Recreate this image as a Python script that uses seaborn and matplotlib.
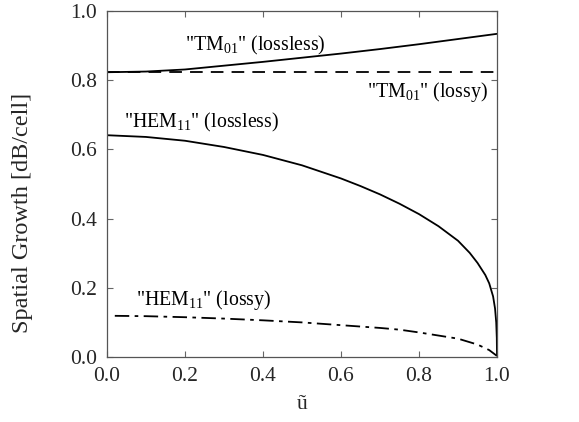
import matplotlib
matplotlib.use("Agg")
import matplotlib.pyplot as plt
import seaborn as sns

# ---- data ----
u_tm_lossless = [0.0, 0.1, 0.2, 0.3, 0.4, 0.5, 0.6, 0.7, 0.8, 0.9, 1.0]
tm_lossless = [0.823, 0.825, 0.831, 0.842, 0.853, 0.865, 0.877, 0.890, 0.904, 0.919, 0.934]

u_tm_lossy = [0.0, 0.25, 0.5, 0.75, 1.0]
tm_lossy = [0.823, 0.823, 0.823, 0.823, 0.823]

u_hem_lossless = [0.0, 0.1, 0.2, 0.3, 0.4, 0.5, 0.6, 0.65, 0.7, 0.75, 0.8, 0.85, 0.9,
                  0.93, 0.95, 0.97, 0.98, 0.99, 0.995, 0.998, 0.9995, 1.0]
hem_lossless = [0.641, 0.636, 0.625, 0.607, 0.584, 0.554, 0.516, 0.494, 0.470, 0.443,
                0.413, 0.378, 0.336, 0.301, 0.272, 0.237, 0.213, 0.175, 0.140, 0.100,
                0.055, 0.005]

u_hem_lossy = [0.02, 0.1, 0.2, 0.3, 0.4, 0.5, 0.6, 0.7, 0.75, 0.8, 0.85, 0.9, 0.95, 0.98, 1.0]
hem_lossy = [0.119, 0.118, 0.115, 0.111, 0.106, 0.100, 0.092, 0.084, 0.079, 0.071,
             0.062, 0.053, 0.036, 0.020, 0.003]

x_ticks = [0.0, 0.2, 0.4, 0.6, 0.8, 1.0]
y_ticks = [0.0, 0.2, 0.4, 0.6, 0.8, 1.0]
tick_labels = ["0.0", "0.2", "0.4", "0.6", "0.8", "1.0"]

labels = [r'"$\mathrm{TM}_{01}$" (lossless)', r'"$\mathrm{TM}_{01}$" (lossy)',
          r'"$\mathrm{HEM}_{11}$" (lossless)', r'"$\mathrm{HEM}_{11}$" (lossy)']
label_x = [0.20, 0.667, 0.044, 0.074]
label_y = [0.887, 0.752, 0.662, 0.150]

# ---- style ----
sns.set_style("ticks", {"xtick.direction": "in", "ytick.direction": "in"})
plt.rcParams["font.family"] = ["Liberation Serif", "DejaVu Serif"]
plt.rcParams["mathtext.fontset"] = "custom"
plt.rcParams["mathtext.rm"] = "Liberation Serif"
plt.rcParams["mathtext.it"] = "Liberation Serif:italic"

FS = 15.5
FS_ANN = 14.3

fig = plt.figure(figsize=(5.79, 4.22), dpi=100)
ax = fig.add_axes([107 / 579, 1 - 357 / 422, 390 / 579, 346 / 422])

sns.lineplot(x=u_tm_lossless, y=tm_lossless, ax=ax, color="black", lw=1.3, errorbar=None)
sns.lineplot(x=u_tm_lossy, y=tm_lossy, ax=ax, color="black", lw=1.3, errorbar=None,
             linestyle=(0, (7, 4.5)))
sns.lineplot(x=u_hem_lossless, y=hem_lossless, ax=ax, color="black", lw=1.3, errorbar=None)
sns.lineplot(x=u_hem_lossy, y=hem_lossy, ax=ax, color="black", lw=1.3, errorbar=None,
             linestyle=(0, (8, 3, 2, 3)))

for t, x, y in zip(labels, label_x, label_y):
    ax.text(x, y, t, fontsize=FS_ANN, ha="left", va="baseline", color="black")

ax.set_xlim(0, 1)
ax.set_ylim(0, 1)
ax.set_xticks(x_ticks)
ax.set_xticklabels(tick_labels)
ax.set_yticks(y_ticks)
ax.set_yticklabels(tick_labels)
ax.tick_params(axis="both", which="major", direction="in", length=4, width=0.8,
               color="#666666", labelsize=FS, top=True, right=True, pad=7)

for s in ax.spines.values():
    s.set_color("#555555")
    s.set_linewidth(0.9)
    s.set_visible(True)

ax.set_ylabel("Spatial Growth [dB/cell]", fontsize=17.5)
ax.yaxis.set_label_coords(-0.19, 0.416)
ax.set_xlabel("ũ", fontsize=FS)
ax.xaxis.set_label_coords(0.5, -0.11)

fig.savefig("out.png", dpi=100)
